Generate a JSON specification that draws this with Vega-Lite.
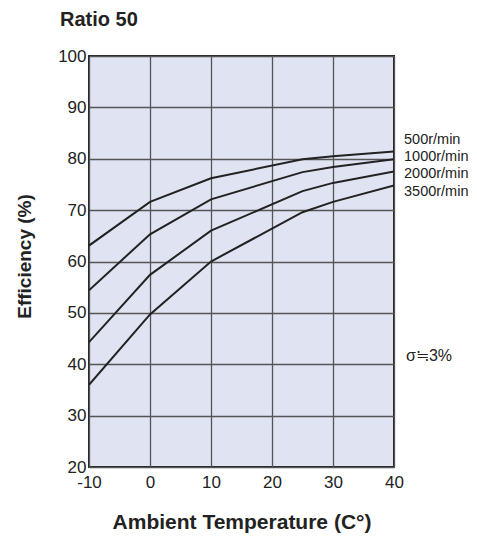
{
  "$schema": "https://vega.github.io/schema/vega-lite/v6.json",
  "width": 305,
  "height": 411,
  "autosize": "none",
  "padding": {"left": 89, "top": 56, "right": 83, "bottom": 69},
  "background": "white",
  "title": {"text": "Ratio 50", "anchor": "start", "frame": "group", "dx": -29, "offset": 17, "font": "Liberation Sans", "fontSize": 20, "fontWeight": "bold", "color": "#222"},
  "config": {
    "view": {"fill": "#dfe3f2", "stroke": "#222", "strokeWidth": 2},
    "axis": {"labelFont": "Liberation Sans", "labelFontSize": 17, "labelColor": "#222", "labelFlush": false, "labelOverlap": false, "titleFont": "Liberation Sans", "titleFontSize": 20, "titleFontWeight": "bold", "titleColor": "#222", "ticks": false, "domain": false, "gridColor": "#555", "gridWidth": 1.3, "gridOpacity": 1}
  },
  "datasets": {
    "curves": [
      {"speed": "500r/min", "t": -10, "eff": 63.1},
      {"speed": "500r/min", "t": 0, "eff": 71.6},
      {"speed": "500r/min", "t": 10, "eff": 76.2},
      {"speed": "500r/min", "t": 25, "eff": 79.9},
      {"speed": "500r/min", "t": 30, "eff": 80.5},
      {"speed": "500r/min", "t": 40, "eff": 81.4},
      {"speed": "1000r/min", "t": -10, "eff": 54.4},
      {"speed": "1000r/min", "t": 0, "eff": 65.3},
      {"speed": "1000r/min", "t": 10, "eff": 72.1},
      {"speed": "1000r/min", "t": 25, "eff": 77.4},
      {"speed": "1000r/min", "t": 30, "eff": 78.4},
      {"speed": "1000r/min", "t": 40, "eff": 79.9},
      {"speed": "2000r/min", "t": -10, "eff": 44.3},
      {"speed": "2000r/min", "t": 0, "eff": 57.4},
      {"speed": "2000r/min", "t": 10, "eff": 66.0},
      {"speed": "2000r/min", "t": 25, "eff": 73.7},
      {"speed": "2000r/min", "t": 30, "eff": 75.3},
      {"speed": "2000r/min", "t": 40, "eff": 77.5},
      {"speed": "3500r/min", "t": -10, "eff": 36.0},
      {"speed": "3500r/min", "t": 0, "eff": 49.7},
      {"speed": "3500r/min", "t": 10, "eff": 60.0},
      {"speed": "3500r/min", "t": 25, "eff": 69.6},
      {"speed": "3500r/min", "t": 30, "eff": 71.6},
      {"speed": "3500r/min", "t": 40, "eff": 74.8}
    ],
    "labels": [
      {"label": "500r/min", "t": 40, "eff": 83.6},
      {"label": "1000r/min", "t": 40, "eff": 80.3},
      {"label": "2000r/min", "t": 40, "eff": 77.0},
      {"label": "3500r/min", "t": 40, "eff": 73.5}
    ],
    "note": [
      {"label": "σ≒3%", "t": 40, "eff": 41.6}
    ]
  },
  "layer": [
    {
      "data": {"name": "curves"},
      "mark": {"type": "line", "color": "#222", "strokeWidth": 2, "clip": true},
      "encoding": {
        "x": {"field": "t", "type": "quantitative", "scale": {"domain": [-10, 40], "nice": false}, "axis": {"values": [-10, 0, 10, 20, 30, 40], "labelExpr": "replace(datum.label, '−', '-')", "title": "Ambient Temperature (C°)", "labelPadding": 7, "titlePadding": 21, "titleFontSize": 21}},
        "y": {"field": "eff", "type": "quantitative", "scale": {"domain": [20, 100], "nice": false, "zero": false}, "axis": {"values": [20, 30, 40, 50, 60, 70, 80, 90, 100], "title": "Efficiency (%)", "labelPadding": 3, "titlePadding": 23, "titleFontSize": 19, "titleY": 200}},
        "detail": {"field": "speed"}
      }
    },
    {
      "data": {"name": "labels"},
      "mark": {"type": "text", "align": "left", "dx": 10, "font": "Liberation Sans", "fontSize": 14.5, "color": "#222"},
      "encoding": {
        "x": {"field": "t", "type": "quantitative"},
        "y": {"field": "eff", "type": "quantitative"},
        "text": {"field": "label"}
      }
    },
    {
      "data": {"name": "note"},
      "mark": {"type": "text", "align": "left", "dx": 12, "font": "Liberation Sans", "fontSize": 16, "color": "#222"},
      "encoding": {
        "x": {"field": "t", "type": "quantitative"},
        "y": {"field": "eff", "type": "quantitative"},
        "text": {"field": "label"}
      }
    }
  ]
}
